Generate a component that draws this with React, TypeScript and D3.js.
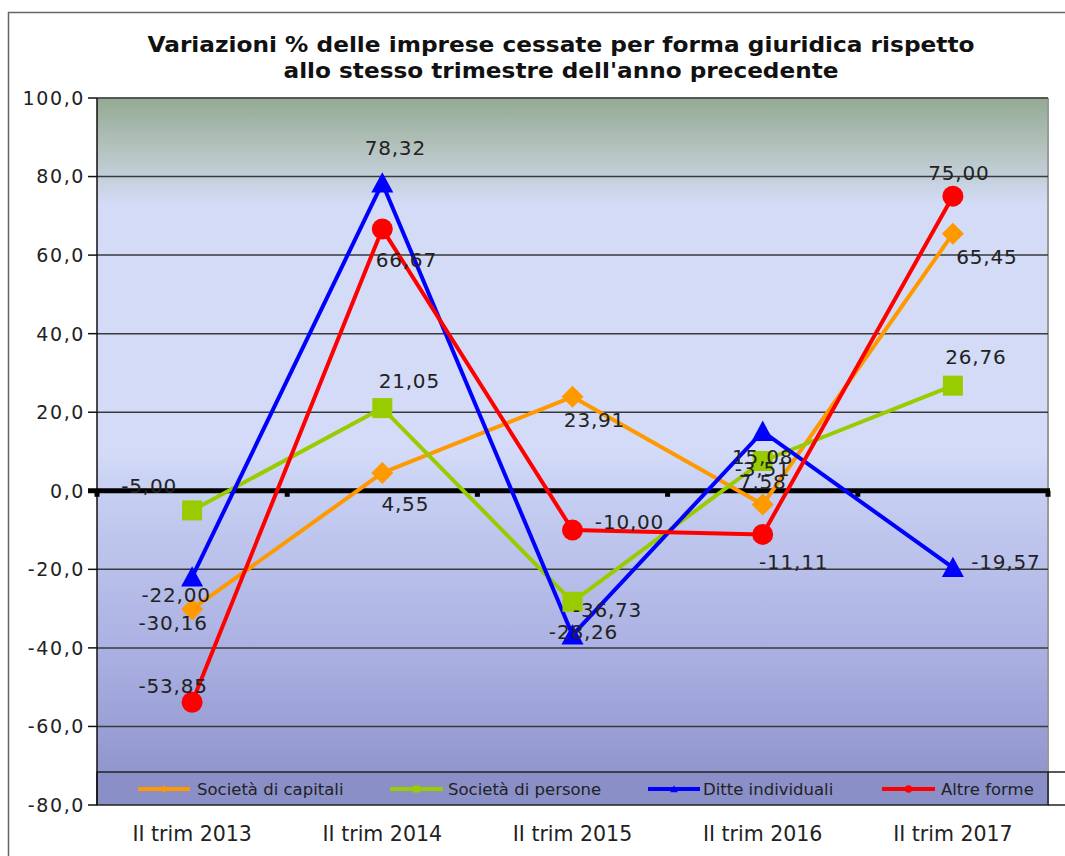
import React from "react";
import * as d3 from "d3";

const titleLines = [
  "Variazioni % delle imprese cessate per forma giuridica rispetto",
  "allo stesso trimestre dell'anno precedente",
];
const categories = ["II trim 2013", "II trim 2014", "II trim 2015", "II trim 2016", "II trim 2017"];
const seriesNames = ["Società di capitali", "Società di persone", "Ditte individuali", "Altre forme"];
const capitali = [-30.16, 4.55, 23.91, -3.51, 65.45];
const persone = [-5.0, 21.05, -28.26, 7.58, 26.76];
const ditte = [-22.0, 78.32, -36.73, 15.08, -19.57];
const altre = [-53.85, 66.67, -10.0, -11.11, 75.0];
const yTicks = [-80, -60, -40, -20, 0, 20, 40, 60, 80, 100];

// layout / style config (not data)
const colors = ["#ff9900", "#99cc00", "#0000ff", "#ff0000"];
const markerTypes = ["diamond", "square", "triangle", "circle"];
const labelOffsets: [number, number][][] = [
  [[-19, 14], [23, 31], [22, 23], [0, -36], [34, 23]],
  [[-43, -25], [27, -27], [11, 30], [0, 21], [23, -29]],
  [[-16, 18], [13, -35], [35, -25], [0, 25], [53, -6]],
  [[-19, -16], [24, 31], [57, -8], [31, 27], [6, -23]],
];
const legendLayout = [
  { x1: 138, x2: 190, tx: 197 },
  { x1: 390, x2: 443, tx: 448 },
  { x1: 648, x2: 700, tx: 703 },
  { x1: 882, x2: 935, tx: 941 },
];

const W = 1065;
const H = 856;
const plot = { left: 97, right: 1048, top: 98, bottom: 805 };

const locale = d3.formatLocale({ decimal: ",", thousands: ".", grouping: [3], currency: ["", "€"], minus: "-" });
const f1 = locale.format(".1f");
const f2 = locale.format(".2f");

function Marker({ type, x, y, color, s = 1 }: { type: string; x: number; y: number; color: string; s?: number }) {
  if (type === "diamond") {
    const r = 11 * s;
    return <polygon points={`${x},${y - r} ${x + r},${y} ${x},${y + r} ${x - r},${y}`} fill={color} />;
  }
  if (type === "square") {
    const r = 10 * s;
    return <rect x={x - r} y={y - r} width={2 * r} height={2 * r} fill={color} />;
  }
  if (type === "triangle") {
    const r = 11 * s;
    return <polygon points={`${x},${y - r} ${x + r},${y + r * 0.85} ${x - r},${y + r * 0.85}`} fill={color} />;
  }
  return <circle cx={x} cy={y} r={10.5 * s} fill={color} />;
}

export default function App() {
  const x = d3.scaleBand<string>().domain(categories).range([plot.left, plot.right]).padding(0);
  const cx = (c: string) => (x(c) as number) + x.bandwidth() / 2;
  const y = d3.scaleLinear().domain([-80, 100]).range([plot.bottom, plot.top]);
  const series = [capitali, persone, ditte, altre];
  const line = d3
    .line<number>()
    .x((_, i) => cx(categories[i]))
    .y((d) => y(d));

  const boundaries = categories.map((c) => x(c) as number).concat([plot.right]);

  return (
    <div style={{ position: "absolute", left: 0, top: 0 }}>
      <svg width={W} height={H} style={{ display: "block", fontFamily: "'DejaVu Sans', Verdana, sans-serif" }}>
        <defs>
          <linearGradient id="bg" x1="0" y1="0" x2="0" y2="1">
            <stop offset="0" stopColor="#93aa93" />
            <stop offset="0.07" stopColor="#b3c2bd" />
            <stop offset="0.15" stopColor="#d3dbf6" />
            <stop offset="0.5" stopColor="#d3dbf8" />
            <stop offset="0.56" stopColor="#c6cef2" />
            <stop offset="0.8" stopColor="#a8aee0" />
            <stop offset="1" stopColor="#8a8fc8" />
          </linearGradient>
        </defs>
        <rect x={0} y={0} width={W} height={H} fill="#ffffff" />
        {/* outer chart border */}
        <path d={`M8.5,${H} L8.5,12.5 L${W},12.5`} fill="none" stroke="#666" strokeWidth={1.5} />

        {/* title */}
        {titleLines.map((t, i) => (
          <text
            key={i}
            x={561}
            y={52 + i * 26}
            textAnchor="middle"
            fontWeight="bold"
            fontSize={22}
            fill="#111"
            textLength={i === 0 ? 827 : 555}
            lengthAdjust="spacingAndGlyphs"
          >
            {t}
          </text>
        ))}

        {/* plot background */}
        <rect x={plot.left} y={plot.top} width={plot.right - plot.left} height={plot.bottom - plot.top} fill="url(#bg)" />
        <line x1={plot.right} x2={plot.right} y1={plot.top} y2={plot.bottom} stroke="#999" strokeWidth={2} />

        {/* gridlines and y ticks */}
        {yTicks.map((t) => (
          <g key={t}>
            {t !== 0 && t !== -80 && (
              <line x1={plot.left} x2={plot.right} y1={y(t)} y2={y(t)} stroke="#3a3a3a" strokeWidth={1.5} />
            )}
            <line x1={88} x2={plot.left} y1={y(t)} y2={y(t)} stroke="#111" strokeWidth={1.5} />
            <text x={85} y={y(t)} dy="0.36em" textAnchor="end" fontSize={19} letterSpacing={1.6} fill="#222">
              {f1(t)}
            </text>
          </g>
        ))}
        <line x1={plot.left} x2={plot.right} y1={plot.top} y2={plot.top} stroke="#555" strokeWidth={1.5} />

        {/* legend box */}
        <rect x={plot.left} y={772} width={plot.right - plot.left} height={33} fill="#8a8fc8" stroke="#222" strokeWidth={1.5} />
        <line x1={plot.right} x2={W} y1={772} y2={772} stroke="#222" strokeWidth={1.5} />
        <line x1={plot.right} x2={W} y1={805} y2={805} stroke="#222" strokeWidth={1.5} />
        {seriesNames.map((n, i) => {
          const L = legendLayout[i];
          return (
            <g key={n}>
              <line x1={L.x1} x2={L.x2} y1={789} y2={789} stroke={colors[i]} strokeWidth={4} />
              <Marker type={markerTypes[i]} x={(L.x1 + L.x2) / 2} y={789} color={colors[i]} s={0.35} />
              <text x={L.tx} y={795} fontSize={16.5} fill="#222">
                {n}
              </text>
            </g>
          );
        })}

        {/* y axis line */}
        <line x1={plot.left} x2={plot.left} y1={plot.top} y2={plot.bottom} stroke="#111" strokeWidth={1.5} />

        {/* zero line with ticks */}
        <line x1={88} x2={plot.right + 2} y1={y(0)} y2={y(0)} stroke="#000" strokeWidth={5} />
        {boundaries.map((b, i) => (
          <rect key={i} x={b - 2.5} y={y(0)} width={5} height={6} fill="#000" />
        ))}

        {/* series */}
        {series.map((vals, si) => (
          <path key={si} d={line(vals) || ""} fill="none" stroke={colors[si]} strokeWidth={4} strokeLinejoin="round" />
        ))}
        {series.map((vals, si) =>
          vals.map((v, i) => (
            <Marker key={`${si}-${i}`} type={markerTypes[si]} x={cx(categories[i])} y={y(v)} color={colors[si]} />
          ))
        )}

        {/* data labels */}
        {series.map((vals, si) =>
          vals.map((v, i) => (
            <text
              key={`l${si}-${i}`}
              x={cx(categories[i]) + labelOffsets[si][i][0]}
              y={y(v) + labelOffsets[si][i][1]}
              dy="0.36em"
              textAnchor="middle"
              fontSize={20}
              letterSpacing={0.8}
              fill="#222"
            >
              {f2(v)}
            </text>
          ))
        )}

        {/* category labels */}
        {categories.map((c) => (
          <text key={c} x={cx(c)} y={841} textAnchor="middle" fontSize={20.5} fill="#222">
            {c}
          </text>
        ))}
      </svg>
    </div>
  );
}
